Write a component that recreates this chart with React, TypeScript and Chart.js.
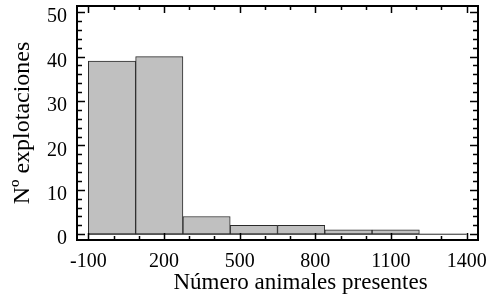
import React, { useEffect, useRef } from "react";
import { Chart, registerables } from "chart.js";

Chart.register(...registerables);

// Histogram bins (edges) and counts
const binEdges = [-100, 87.5, 275, 462.5, 650, 837.5, 1025, 1212.5, 1400];
const counts = [39, 40, 4, 2, 2, 1, 1, 0];
const xTickValues = [-100, 200, 500, 800, 1100, 1400];
const yTickValues = [0, 10, 20, 30, 40, 50];
const xTitle = "Número animales presentes";
const yTitle = "Nº explotaciones";

const FONT = "'Liberation Serif', 'DejaVu Serif', serif";

const frameTicks = {
  id: "frameTicks",
  afterDraw(chart: any) {
    const { ctx, chartArea, scales } = chart;
    const { left, right, top, bottom } = chartArea;
    const x = scales.x;
    const y = scales.y;
    ctx.save();
    ctx.strokeStyle = "#000";
    ctx.lineWidth = 1.5;
    ctx.beginPath();
    for (let v = xTickValues[0]; v <= xTickValues[xTickValues.length - 1]; v += 100) {
      const major = xTickValues.includes(v);
      const len = major ? 7 : 4;
      const px = Math.round(x.getPixelForValue(v)) + 0.5;
      ctx.moveTo(px, bottom);
      ctx.lineTo(px, bottom - len);
      ctx.moveTo(px, top);
      ctx.lineTo(px, top + len);
    }
    for (let v = yTickValues[0]; v <= yTickValues[yTickValues.length - 1]; v += 2) {
      const major = yTickValues.includes(v);
      const len = major ? 8 : 5;
      const py = Math.round(y.getPixelForValue(v)) + 0.5;
      ctx.moveTo(left, py);
      ctx.lineTo(left + len, py);
      ctx.moveTo(right, py);
      ctx.lineTo(right - len, py);
    }
    ctx.stroke();
    ctx.lineWidth = 2;
    ctx.strokeRect(left, top, right - left, bottom - top);
    // x-axis title (offset to the right as in the original)
    ctx.fillStyle = "#000";
    ctx.font = `23px ${FONT}`;
    ctx.textAlign = "center";
    ctx.textBaseline = "alphabetic";
    ctx.fillText(xTitle, (left + right) / 2 + 23, bottom + 49);
    ctx.restore();
  },
};

export default function App() {
  const ref = useRef<HTMLCanvasElement | null>(null);
  useEffect(() => {
    if (!ref.current) return;
    const centers = counts.map((_, i) => (binEdges[i] + binEdges[i + 1]) / 2);
    const chart = new Chart(ref.current, {
      type: "bar",
      data: {
        datasets: [
          {
            type: "bar",
            data: centers.map((c, i) => ({ x: c, y: counts[i] })),
            backgroundColor: "#c0c0c0",
            borderColor: "#2a2a2a",
            borderWidth: 1,
            borderSkipped: false,
            barPercentage: 1,
            categoryPercentage: 1,
            order: 2,
          } as any,
          {
            type: "line",
            data: [
              { x: binEdges[0], y: 0 },
              { x: binEdges[binEdges.length - 1], y: 0 },
            ],
            borderColor: "#2a2a2a",
            borderWidth: 1,
            pointRadius: 0,
            order: 1,
          } as any,
        ],
      },
      options: {
        responsive: false,
        animation: false,
        devicePixelRatio: 1,
        layout: { padding: { left: 0, top: 6, right: 10, bottom: 0 } },
        plugins: { legend: { display: false }, tooltip: { enabled: false } },
        scales: {
          x: {
            type: "linear",
            offset: false,
            min: -145,
            max: 1445,
            grid: { display: false, drawTicks: false, offset: false },
            border: { display: false },
            afterBuildTicks: (s: any) => {
              s.ticks = xTickValues.map((v) => ({ value: v }));
            },
            afterFit: (s: any) => {
              s.height = 62;
              s.paddingLeft = 0;
              s.paddingRight = 0;
            },
            ticks: {
              color: "#000",
              padding: 10,
              maxRotation: 0,
              autoSkip: false,
              font: { family: FONT, size: 20 },
              callback: (v: any) => String(v),
            },
            title: { display: false },
          },
          y: {
            min: -1.3,
            max: 51.4,
            grid: { display: false, drawTicks: false },
            border: { display: false },
            afterBuildTicks: (s: any) => {
              s.ticks = yTickValues.map((v) => ({ value: v }));
            },
            afterFit: (s: any) => {
              s.width = 77;
              s.paddingTop = 0;
              s.paddingBottom = 0;
            },
            ticks: {
              color: "#000",
              padding: 10,
              labelOffset: 5,
              font: { family: FONT, size: 20 },
              callback: (v: any) => String(v),
            },
            title: {
              display: true,
              text: yTitle,
              color: "#000",
              font: { family: FONT, size: 24 },
              padding: { top: 8, bottom: 0 },
            },
          },
        },
      },
      plugins: [frameTicks],
    } as any);
    return () => chart.destroy();
  }, []);
  return (
    <div style={{ position: "fixed", left: 0, top: 0, width: 488, height: 302, background: "#fff" }}>
      <canvas ref={ref} width={488} height={302} style={{ display: "block" }} />
    </div>
  );
}
